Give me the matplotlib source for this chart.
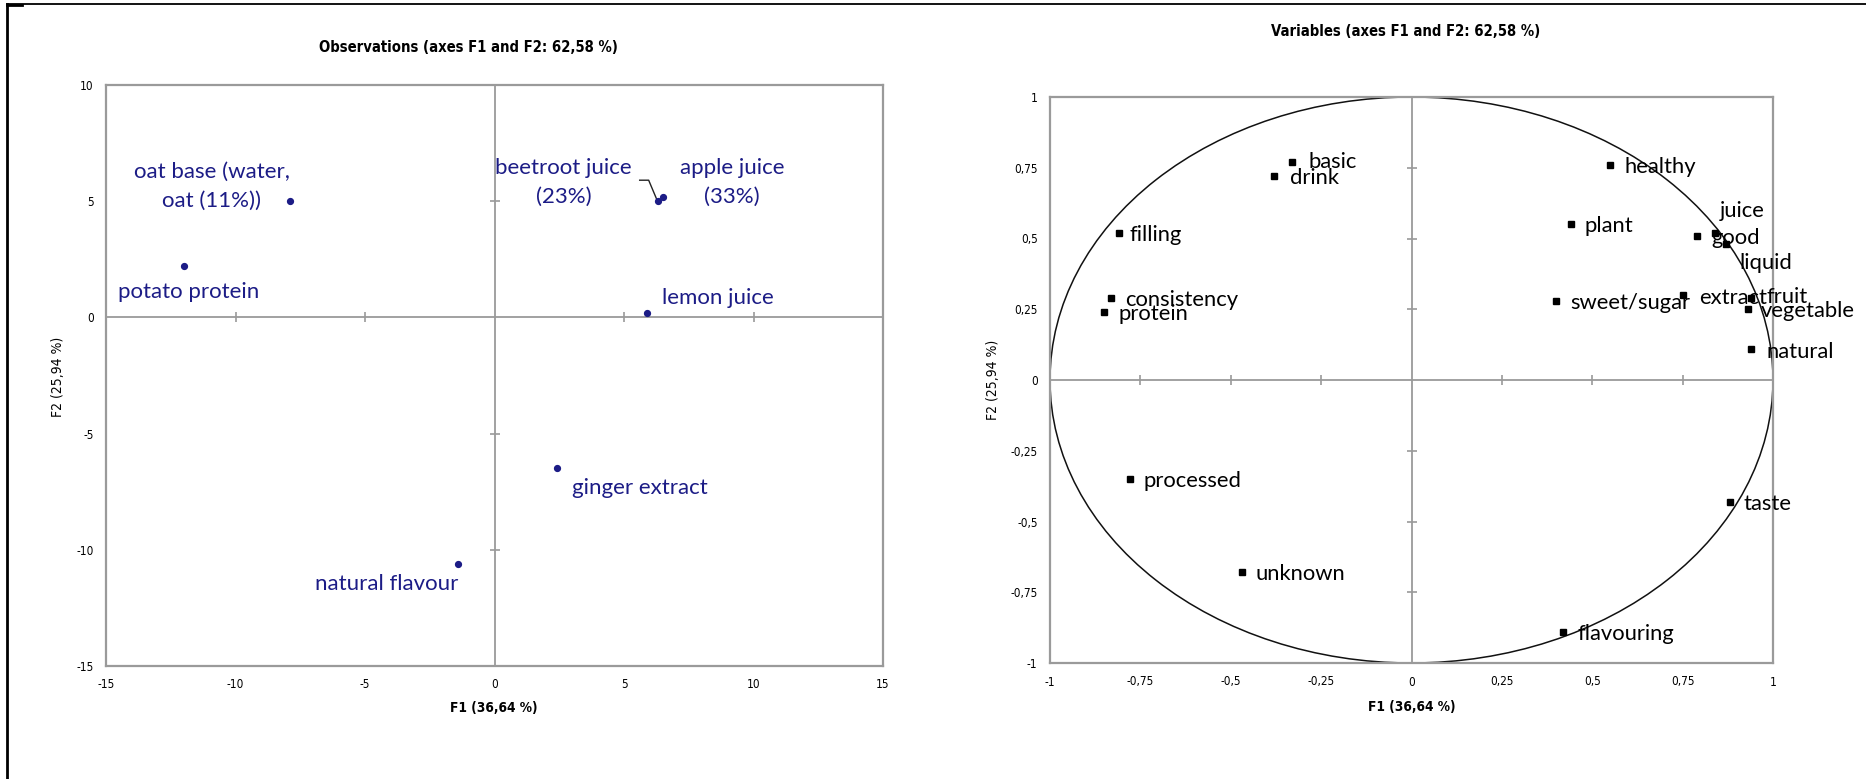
import matplotlib
matplotlib.use("Agg")
import matplotlib.pyplot as plt
import matplotlib.transforms as mtransforms
from matplotlib.patches import Circle
from matplotlib.lines import Line2D

# ---------------- data ----------------
obs_names = ["oat base (water,\noat (11%))", "potato protein", "beetroot juice\n(23%)",
             "apple juice\n(33%)", "lemon juice", "ginger extract", "natural flavour"]
obs_f1 = [-7.9, -12.0, 6.3, 6.5, 5.9, 2.4, -1.4]
obs_f2 = [5.0, 2.2, 5.0, 5.2, 0.2, -6.5, -10.6]

var_names = ["basic", "drink", "filling", "consistency", "protein", "healthy", "plant",
             "good", "juice", "liquid", "sweet/sugar", "extract", "fruit", "vegetable",
             "natural", "processed", "unknown", "taste", "flavouring"]
var_f1 = [-0.33, -0.38, -0.81, -0.83, -0.85, 0.55, 0.44, 0.79, 0.84, 0.87, 0.40,
          0.75, 0.94, 0.93, 0.94, -0.78, -0.47, 0.88, 0.42]
var_f2 = [0.77, 0.72, 0.52, 0.29, 0.24, 0.76, 0.55, 0.51, 0.52, 0.48, 0.28,
          0.30, 0.29, 0.25, 0.11, -0.35, -0.68, -0.43, -0.89]

obs_xticks = [-15, -10, -5, 0, 5, 10, 15]
obs_yticks = [-15, -10, -5, 0, 5, 10]
var_ticks = [-1, -0.75, -0.5, -0.25, 0, 0.25, 0.5, 0.75, 1]

title_obs = "Observations (axes F1 and F2: 62,58 %)"
title_var = "Variables (axes F1 and F2: 62,58 %)"
xlabel = "F1 (36,64 %)"
ylabel = "F2 (25,94 %)"

# ---------------- styling / placement ----------------
W, H = 1866, 779
fig = plt.figure(figsize=(W / 100, H / 100), dpi=100)
FRAME = "#9a9a9a"
NAVY = "#1c1c86"
LBL_FONT = ["Lato", "DejaVu Sans"]
NARROW = ["DejaVu Sans"]
OBS_SIZE = 16
VAR_SIZE = 15.8


def fx(px):
    return px / W


def fy(py):
    return 1 - py / H


def comma(v):
    return f"{v:g}".replace(".", ",")


def setup_axes(ax, xt, yt, xlim, ylim, mk):
    ax.set_xlim(*xlim)
    ax.set_ylim(*ylim)
    for s in ax.spines.values():
        s.set_color(FRAME)
        s.set_linewidth(1.6)
    ax.set_xticks(xt)
    ax.set_yticks(yt)
    ax.set_xticklabels([comma(v) for v in xt], family=NARROW, fontsize=8.5,
                       fontstretch="condensed")
    ax.set_yticklabels([comma(v) for v in yt], family=NARROW, fontsize=8.5,
                       fontstretch="condensed")
    ax.tick_params(length=0, pad=9)
    ax.axhline(0, color=FRAME, lw=1.3, zorder=1)
    ax.axvline(0, color=FRAME, lw=1.3, zorder=1)
    xs = [v for v in xt if v not in (0, xlim[0], xlim[1])]
    ys = [v for v in yt if v not in (0, ylim[0], ylim[1])]
    ax.plot(xs, [0] * len(xs), ls="none", marker="|", ms=mk, mew=1.2, color=FRAME, zorder=1)
    ax.plot([0] * len(ys), ys, ls="none", marker="_", ms=mk, mew=1.2, color=FRAME, zorder=1)


# ---------- left: observations ----------
ax1 = fig.add_axes([fx(106), fy(666), fx(883 - 106), (666 - 85) / H])
setup_axes(ax1, obs_xticks, obs_yticks, (-15, 15), (-15, 10), 7)
ax1.plot(obs_f1, obs_f2, ls="none", marker="o", ms=4.2, color=NAVY, zorder=3)

obs_off = {
    "oat base (water,\noat (11%))": (-78, 15, "center"),
    "potato protein": (5, -26, "center"),
    "beetroot juice\n(23%)": (-94, 19, "center"),
    "apple juice\n(33%)": (69, 14, "center"),
    "lemon juice": (15, 15, "left"),
    "ginger extract": (15, -20, "left"),
    "natural flavour": (0, -20, "right"),
}
for name, x, y in zip(obs_names, obs_f1, obs_f2):
    dx, dy, ha = obs_off[name]
    ax1.annotate(name, (x, y), xytext=(dx, dy), textcoords="offset pixels",
                 ha=ha, va="center", multialignment="center", linespacing=1.55,
                 color=NAVY, fontsize=OBS_SIZE, family=LBL_FONT, zorder=4)

# leader line for beetroot juice
bi = obs_names.index("beetroot juice\n(23%)")
lead_tr = mtransforms.Affine2D() + mtransforms.ScaledTranslation(obs_f1[bi], obs_f2[bi], ax1.transData)
ax1.add_line(Line2D([-18, -9, -1], [21, 21, 2], transform=lead_tr, color="#222222", lw=1.0))

# ---------- right: variables ----------
ax2 = fig.add_axes([fx(1050), fy(663), fx(1773 - 1050), (663 - 97) / H])
setup_axes(ax2, var_ticks, var_ticks, (-1, 1), (-1, 1), 7)
ax2.add_patch(Circle((0, 0), 1, fill=False, ec="#111111", lw=1.1, zorder=2))
ax2.plot(var_f1, var_f2, ls="none", marker="s", ms=4, color="black", zorder=3)

var_off = {"juice": (5, 22), "liquid": (13, -19), "basic": (16, 0), "drink": (16, -2),
           "filling": (11, -2), "extract": (16, -3), "fruit": (15, 1), "vegetable": (13, -2),
           "natural": (15, -3)}
for name, x, y in zip(var_names, var_f1, var_f2):
    dx, dy = var_off.get(name, (14, -2))
    ax2.annotate(name, (x, y), xytext=(dx, dy), textcoords="offset pixels",
                 ha="left", va="center", color="black", fontsize=VAR_SIZE,
                 family=LBL_FONT, zorder=4, annotation_clip=False)

# ---------- titles & axis labels ----------
tkw = dict(ha="center", va="center", fontweight="bold", family=NARROW, fontstretch="condensed")
fig.text(fx(468), fy(48), title_obs, fontsize=10.6, **tkw)
fig.text(fx(1406), fy(31), title_var, fontsize=10.6, **tkw)
fig.text(fx(494), fy(708), xlabel, fontsize=9.8, **tkw)
fig.text(fx(1412), fy(707), xlabel, fontsize=9.8, **tkw)
ykw = dict(ha="center", va="center", rotation=90, family=NARROW, fontstretch="condensed")
fig.text(fx(58), fy(377), ylabel, fontsize=10, **ykw)
fig.text(fx(993), fy(380), ylabel, fontsize=10, **ykw)

# ---------- figure frame (top and left edges) ----------
fig.add_artist(Line2D([fx(7), 1], [fy(3.5), fy(3.5)], transform=fig.transFigure,
                      color="black", lw=1.3))
fig.add_artist(Line2D([fx(7.5), fx(7.5)], [0, fy(3.5)], transform=fig.transFigure,
                      color="black", lw=2.0))
fig.add_artist(Line2D([fx(7), fx(22)], [fy(4.5), fy(4.5)], transform=fig.transFigure,
                      color="black", lw=2.0))

fig.savefig("out.png", dpi=100)
